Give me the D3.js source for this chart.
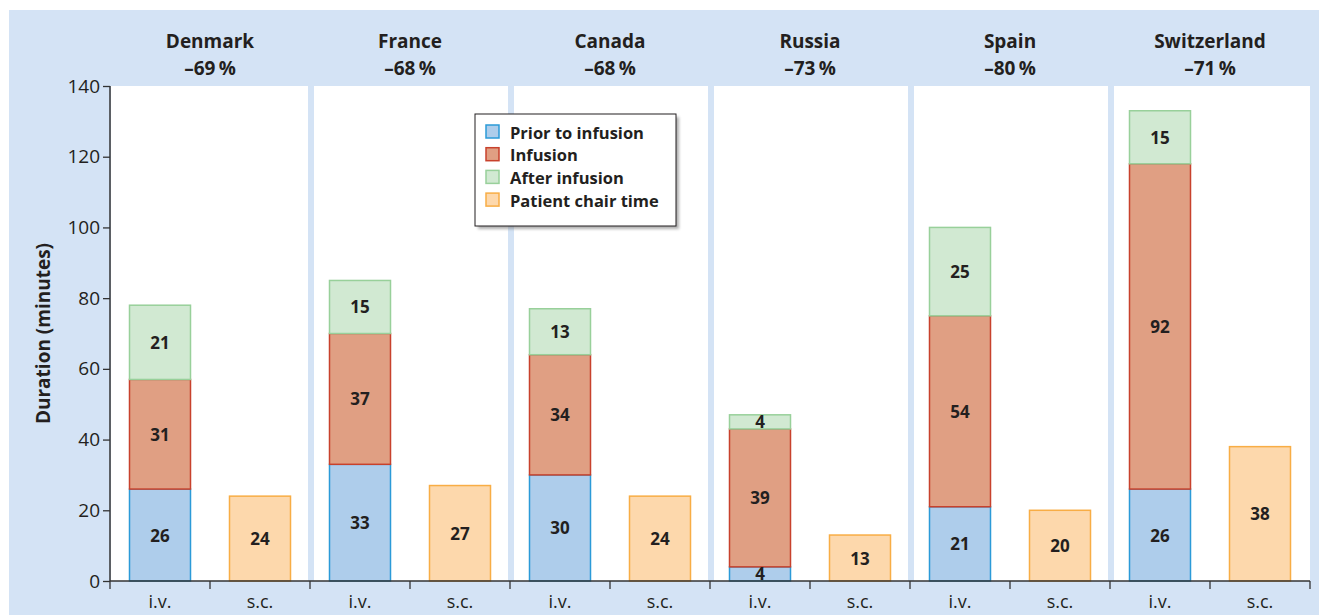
<!DOCTYPE html>
<html lang="en">
<head>
    <meta charset="UTF-8">
    <script src="https://d3js.org/d3.v7.min.js"></script>
    <style>
        body {
            margin: 0;
            background-color: #ffffff;
            overflow: hidden;
            font-family: 'Open Sans', sans-serif;
        }
        svg { display: block; }
    </style>
</head>
<body>
    <svg id="chart" width="1319" height="615"></svg>

    <script>
        // chart data
        const countries = ["Denmark", "France", "Canada", "Russia", "Spain", "Switzerland"];
        const reduction = [-69, -68, -68, -73, -80, -71];
        const prior = [26, 33, 30, 4, 21, 26];
        const infusion = [31, 37, 34, 39, 54, 92];
        const after = [21, 15, 13, 4, 25, 15];
        const chair = [24, 27, 24, 13, 20, 38];
        const routes = ["i.v.", "s.c."];
        const yTicks = [0, 20, 40, 60, 80, 100, 120, 140];

        const series = [
            { key: "prior", name: "Prior to infusion", fill: "#aecdeb", stroke: "#2b9ad8" },
            { key: "infusion", name: "Infusion", fill: "#e09f83", stroke: "#c8412c" },
            { key: "after", name: "After infusion", fill: "#d1e9d2", stroke: "#98d09a" },
            { key: "chair", name: "Patient chair time", fill: "#fdd8ac", stroke: "#f8ad45" }
        ];

        const svg = d3.select("#chart");
        const margin = { left: 110, right: 9, top: 86, bottom: 34 };
        const W = 1319, H = 615;

        // background
        svg.append("rect")
            .attr("x", 9).attr("y", 10)
            .attr("width", W - 9).attr("height", H - 10)
            .attr("fill", "#d4e3f5");

        const x = d3.scaleBand()
            .domain(countries)
            .range([margin.left, W - margin.right]);

        const xSub = d3.scaleBand()
            .domain(routes)
            .range([0, x.bandwidth()])
            .paddingInner(0.39)
            .paddingOuter(0.195);

        const y = d3.scaleLinear()
            .domain([0, 140])
            .range([H - margin.bottom, margin.top]);

        // white panels per country
        svg.append("g").selectAll("rect")
            .data(countries)
            .join("rect")
            .attr("x", (d, i) => x(d) + (i === 0 ? 1 : 4))
            .attr("y", y(140))
            .attr("width", (d, i) => x.bandwidth() - (i === 0 ? 3 : 6) - (i === countries.length - 1 ? -2 : 0))
            .attr("height", y(0) - y(140))
            .attr("fill", "#ffffff");

        // header labels
        const head = svg.append("g")
            .attr("font-weight", 700)
            .attr("font-size", 19)
            .attr("fill", "#231f20")
            .attr("text-anchor", "middle");
        head.selectAll("text.name")
            .data(countries)
            .join("text")
            .attr("class", "name")
            .attr("x", d => x(d) + x.bandwidth() / 2)
            .attr("y", 48)
            .text(d => d);
        head.selectAll("text.pct")
            .data(reduction)
            .join("text")
            .attr("class", "pct")
            .attr("x", (d, i) => x(countries[i]) + x.bandwidth() / 2)
            .attr("y", 75)
            .text(d => "\u2013" + Math.abs(d) + "\u2009%");

        // stacked iv bars
        const ivRows = countries.map((c, i) => ({ country: c, prior: prior[i], infusion: infusion[i], after: after[i] }));
        const stack = d3.stack().keys(["prior", "infusion", "after"]);
        const layers = stack(ivRows);

        const barsG = svg.append("g");
        layers.forEach((layer, li) => {
            const s = series[li];
            const g = barsG.append("g");
            g.selectAll("rect")
                .data(layer)
                .join("rect")
                .attr("x", d => x(d.data.country) + xSub("i.v."))
                .attr("y", d => y(d[1]))
                .attr("width", xSub.bandwidth())
                .attr("height", d => y(d[0]) - y(d[1]))
                .attr("fill", s.fill)
                .attr("stroke", s.stroke)
                .attr("stroke-width", 1.5);
        });

        // sc bars
        barsG.append("g").selectAll("rect")
            .data(chair)
            .join("rect")
            .attr("x", (d, i) => x(countries[i]) + xSub("s.c."))
            .attr("y", d => y(d))
            .attr("width", xSub.bandwidth())
            .attr("height", d => y(0) - y(d))
            .attr("fill", series[3].fill)
            .attr("stroke", series[3].stroke)
            .attr("stroke-width", 1.5);

        // value labels
        const lab = svg.append("g")
            .attr("font-weight", 700)
            .attr("font-size", 17)
            .attr("fill", "#231f20")
            .attr("text-anchor", "middle")
            .attr("dominant-baseline", "central");
        layers.forEach(layer => {
            lab.append("g").selectAll("text")
                .data(layer)
                .join("text")
                .attr("x", d => x(d.data.country) + xSub("i.v.") + xSub.bandwidth() / 2)
                .attr("y", d => y((d[0] + d[1]) / 2))
                .text(d => d[1] - d[0]);
        });
        lab.append("g").selectAll("text")
            .data(chair)
            .join("text")
            .attr("x", (d, i) => x(countries[i]) + xSub("s.c.") + xSub.bandwidth() / 2)
            .attr("y", d => y(d / 2))
            .text(d => d);

        // y axis
        const yAxis = svg.append("g")
            .attr("transform", `translate(${margin.left},0)`)
            .call(d3.axisLeft(y).tickValues(yTicks).tickSize(7).tickPadding(3));
        yAxis.selectAll("text").attr("font-size", 19).attr("fill", "#231f20")
            .attr("font-family", "'Open Sans', sans-serif");
        yAxis.selectAll("line").attr("stroke", "#333").attr("stroke-width", 1.3);
        yAxis.select(".domain").attr("d", `M0,${y(140)}V${y(0)}`).attr("stroke", "#333").attr("stroke-width", 1.5);

        // x axis: line with ticks at every sub-band edge
        const xAxisG = svg.append("g");
        xAxisG.append("line")
            .attr("x1", margin.left).attr("x2", W - margin.right)
            .attr("y1", y(0)).attr("y2", y(0))
            .attr("stroke", "#333").attr("stroke-width", 1.5);
        const tickXs = [];
        countries.forEach(c => { tickXs.push(x(c)); tickXs.push(x(c) + x.bandwidth() / 2); });
        tickXs.push(W - margin.right);
        xAxisG.selectAll("line.tick")
            .data(tickXs)
            .join("line")
            .attr("class", "tick")
            .attr("x1", d => d).attr("x2", d => d)
            .attr("y1", y(0)).attr("y2", y(0) + 8)
            .attr("stroke", "#333").attr("stroke-width", 1.3);
        const subLabels = [];
        countries.forEach(c => routes.forEach(r => subLabels.push({ c, r })));
        xAxisG.selectAll("text")
            .data(subLabels)
            .join("text")
            .attr("x", d => x(d.c) + xSub(d.r) + xSub.bandwidth() / 2)
            .attr("y", 608)
            .attr("text-anchor", "middle")
            .attr("font-size", 18)
            .attr("fill", "#231f20")
            .text(d => d.r);

        // y axis title
        svg.append("text")
            .attr("transform", `translate(50,${(y(0) + y(140)) / 2}) rotate(-90)`)
            .attr("text-anchor", "middle")
            .attr("font-weight", 700)
            .attr("font-size", 19)
            .attr("fill", "#231f20")
            .text("Duration (minutes)");

        // legend
        const lg = svg.append("g").attr("transform", "translate(475,114)");
        lg.append("rect")
            .attr("x", 3).attr("y", 3).attr("width", 201).attr("height", 112)
            .attr("fill", "#7a7a7a").attr("opacity", 0.6)
            .attr("filter", "blur(1.5px)");
        lg.append("rect")
            .attr("width", 201).attr("height", 112)
            .attr("fill", "#ffffff").attr("stroke", "#231f20").attr("stroke-width", 1);
        const item = lg.selectAll("g.item")
            .data(series)
            .join("g")
            .attr("class", "item")
            .attr("transform", (d, i) => `translate(11,${11 + i * 22.7})`);
        item.append("rect")
            .attr("width", 13).attr("height", 13)
            .attr("fill", d => d.fill).attr("stroke", d => d.stroke).attr("stroke-width", 1.5);
        item.append("text")
            .attr("x", 24).attr("y", 7)
            .attr("dominant-baseline", "central")
            .attr("font-weight", 700)
            .attr("font-size", 16.5)
            .attr("fill", "#231f20")
            .text(d => d.name);
    </script>
</body>
</html>
